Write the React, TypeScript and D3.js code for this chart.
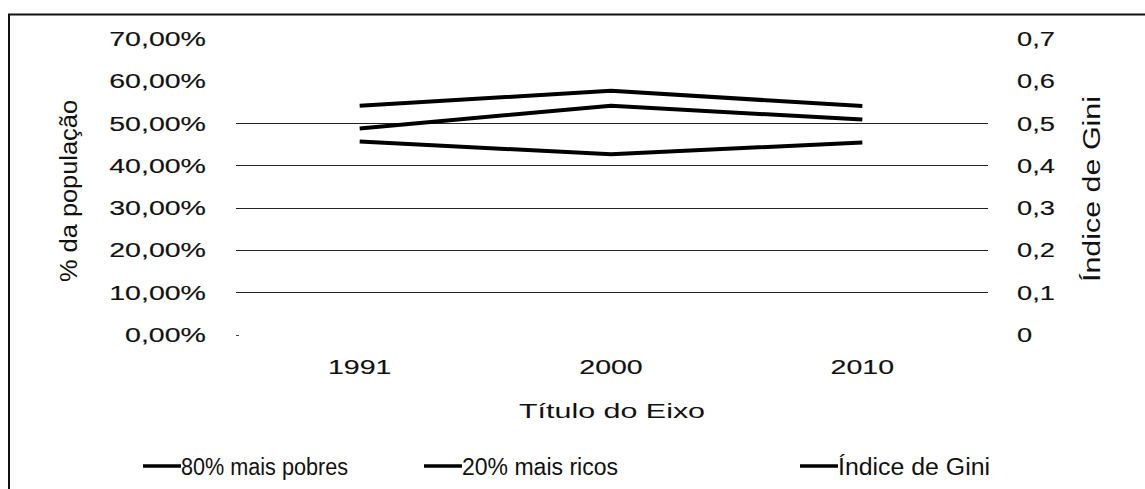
import React, { useEffect, useRef } from "react";
import * as d3 from "d3";

// categories and series
const years = ["1991", "2000", "2010"];
const pobres = [45.6, 42.6, 45.4]; // 80% mais pobres (% da população)
const ricos = [54.1, 57.6, 54.0]; // 20% mais ricos
const gini = [0.487, 0.541, 0.508]; // Índice de Gini (right axis)

const leftTicks = [0, 10, 20, 30, 40, 50, 60, 70];
const rightTicks = [0, 0.1, 0.2, 0.3, 0.4, 0.5, 0.6, 0.7];
const gridTicks = [10, 20, 30, 40, 50];

const legendLabels = ["80% mais pobres", "20% mais ricos", "Índice de Gini"];

const fmtPct = (v: number) => v.toFixed(2).replace(".", ",") + "%";
const fmtGini = (v: number) => (v === 0 ? "0" : v.toFixed(1).replace(".", ","));

const App = () => {
  const ref = useRef<SVGSVGElement>(null);

  useEffect(() => {
    const svg = d3.select(ref.current);
    svg.selectAll("*").remove();

    const width = 1145;
    const height = 489;
    const font = "'Liberation Sans', Arial, sans-serif";
    const SX = 1.36; // the picture is stretched sideways

    svg.attr("width", width).attr("height", height);

    // chart frame (only top and left edges are visible)
    svg.append("path")
      .attr("d", `M9,489 V14.5 H1145`)
      .attr("fill", "none")
      .attr("stroke", "#111")
      .attr("stroke-width", 2);

    // scales
    const x = d3.scaleBand().domain(years).range([234, 988]);
    const y = d3.scaleLinear().domain([0, 70]).range([334.5, 38.4]);
    const y2 = d3.scaleLinear().domain([0, 0.7]).range([334.5, 38.4]);
    const cx = (d: string) => (x(d) as number) + x.bandwidth() / 2;

    // gridlines
    svg.append("g")
      .selectAll("line")
      .data(gridTicks)
      .enter()
      .append("line")
      .attr("x1", 236)
      .attr("x2", 988)
      .attr("y1", (d) => Math.round(y(d)) + 0.5)
      .attr("y2", (d) => Math.round(y(d)) + 0.5)
      .attr("stroke", "#222")
      .attr("stroke-width", 1);

    // tiny tick at zero
    svg.append("line")
      .attr("x1", 236).attr("x2", 239)
      .attr("y1", Math.round(y(0)) + 0.5).attr("y2", Math.round(y(0)) + 0.5)
      .attr("stroke", "#444");

    const stretchText = (g: any, tx: number, ty: number, txt: string, anchor: string, size: number, sx: number, sw: number) => {
      g.append("text")
        .attr("transform", `translate(${tx},${ty}) scale(${sx},1)`)
        .attr("text-anchor", anchor)
        .attr("font-family", font)
        .attr("font-size", size)
        .attr("fill", "#111")
        .attr("stroke", sw > 0 ? "#111" : "none")
        .attr("stroke-width", sw)
        .text(txt);
    };

    // left axis labels
    const gl = svg.append("g");
    leftTicks.forEach((t) => stretchText(gl, 206, y(t) + 7.5, fmtPct(t), "end", 21, SX, 0.15));

    // right axis labels
    const gr = svg.append("g");
    rightTicks.forEach((t) => stretchText(gr, 1017, y2(t) + 7.5, fmtGini(t), "start", 21, 1.3, 0.15));

    // category labels
    const gx = svg.append("g");
    years.forEach((d) => stretchText(gx, cx(d), 374, d, "middle", 21, SX, 0.15));

    // axis title (x)
    stretchText(svg, 612, 418, "Título do Eixo", "middle", 21, 1.45, 0);

    // rotated axis titles
    svg.append("text")
      .attr("transform", `translate(77,191) rotate(-90)`)
      .attr("text-anchor", "middle")
      .attr("font-family", font)
      .attr("font-size", 23)
      .attr("textLength", 182)
      .attr("lengthAdjust", "spacingAndGlyphs")
      .attr("fill", "#111")
      .text("% da população");

    svg.append("text")
      .attr("transform", `translate(1100,189) rotate(-90)`)
      .attr("text-anchor", "middle")
      .attr("font-family", font)
      .attr("font-size", 23)
      .attr("textLength", 186)
      .attr("lengthAdjust", "spacingAndGlyphs")
      .attr("fill", "#111")
      .text("Índice de Gini");

    // series lines
    const line = d3.line<number>()
      .x((_, i) => cx(years[i]))
      .y((d) => y(d));
    const line2 = d3.line<number>()
      .x((_, i) => cx(years[i]))
      .y((d) => y2(d));

    const series = [
      { key: "pobres", d: line(pobres) },
      { key: "ricos", d: line(ricos) },
      { key: "gini", d: line2(gini) },
    ];

    svg.append("g")
      .selectAll("path")
      .data(series)
      .enter()
      .append("path")
      .attr("d", (s) => s.d as string)
      .attr("fill", "none")
      .attr("stroke", "#000")
      .attr("stroke-width", 4)
      .attr("stroke-linejoin", "round");

    // legend
    const legendX = [143, 424, 800];
    const legendW = [167, 156, 152];
    const leg = svg.append("g");
    legendLabels.forEach((lab, i) => {
      leg.append("line")
        .attr("x1", legendX[i])
        .attr("x2", legendX[i] + 38)
        .attr("y1", 466)
        .attr("y2", 466)
        .attr("stroke", "#000")
        .attr("stroke-width", 3.5);
      leg.append("text")
        .attr("x", legendX[i] + 38)
        .attr("y", 475)
        .attr("font-family", font)
        .attr("font-size", 23)
        .attr("textLength", legendW[i])
        .attr("lengthAdjust", "spacingAndGlyphs")
        .attr("fill", "#111")
        .text(lab);
    });
  }, []);

  return (
    <svg
      ref={ref}
      style={{ position: "absolute", left: 0, top: 0, background: "#fff" }}
    ></svg>
  );
};

export default App;
